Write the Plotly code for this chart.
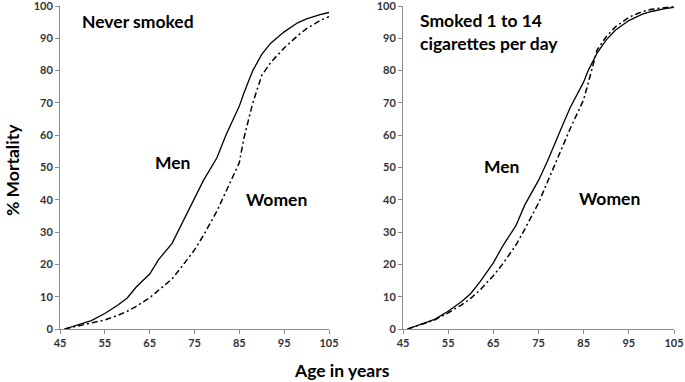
import plotly.graph_objects as go

ages = [46, 48, 50, 52, 55, 58, 60, 62, 65, 67, 70, 72, 75, 77, 80, 82, 85, 86, 88, 90, 92, 95, 98, 100, 103, 105]
men_never = [0, 0.8, 1.6, 2.6, 4.8, 7.5, 9.6, 13, 17, 21.5, 26.5, 32, 40, 46, 53, 60, 69, 73, 80, 85, 88.5, 92, 94.8, 96, 97.3, 98]
women_never = [0, 0.6, 1.2, 1.8, 2.8, 4.3, 5.5, 7, 9.7, 12, 15.5, 19, 24.5, 29, 36.5, 42.5, 51.5, 59, 70, 78.5, 82.5, 87, 90.8, 93, 95.5, 96.7]
men_smoked = [0, 1, 1.8, 3, 5.5, 8.5, 11, 14.5, 20.5, 25.5, 32, 38.5, 46, 52, 62, 68.5, 76.5, 80, 85.5, 89.5, 92.5, 95.5, 97.5, 98.3, 99.2, 99.6]
women_smoked = [0, 1, 1.8, 2.8, 5, 7.5, 9.5, 12, 16.5, 20, 26, 31, 39, 45.5, 55.5, 62, 71, 76, 86.5, 90.5, 93.5, 96.5, 98.3, 99, 99.6, 99.8]

x_ticks = [45, 55, 65, 75, 85, 95, 105]
y_ticks = [0, 10, 20, 30, 40, 50, 60, 70, 80, 90, 100]

FONT = "Lato"
dashdot = "6px,3px,2px,3px"

fig = go.Figure()
fig.add_trace(go.Scatter(x=ages, y=men_never, mode="lines", line=dict(color="black", width=1.3), xaxis="x", yaxis="y"))
fig.add_trace(go.Scatter(x=ages, y=women_never, mode="lines", line=dict(color="black", width=1.5, dash=dashdot), xaxis="x", yaxis="y"))
fig.add_trace(go.Scatter(x=ages, y=men_smoked, mode="lines", line=dict(color="black", width=1.3), xaxis="x2", yaxis="y2"))
fig.add_trace(go.Scatter(x=ages, y=women_smoked, mode="lines", line=dict(color="black", width=1.5, dash=dashdot), xaxis="x2", yaxis="y2"))

axis_common = dict(showgrid=False, zeroline=False, showline=True, linecolor="#8c8c8c", linewidth=1,
                   ticks="outside", ticklen=4, tickcolor="#8c8c8c", automargin=False,
                   ticklabeloverflow="allow",
                   tickfont=dict(family=FONT, size=11, color="#333333", weight="bold"))

fig.update_layout(
    width=685, height=382,
    margin=dict(l=0, r=0, t=0, b=0),
    paper_bgcolor="white", plot_bgcolor="white",
    showlegend=False,
    font=dict(family=FONT),
    xaxis=dict(domain=[60/685, 329/685], range=[45, 105], tickvals=x_ticks, anchor="y", **axis_common),
    yaxis=dict(domain=[53/382, 376/382], range=[0, 100], tickvals=y_ticks, anchor="x", **axis_common),
    xaxis2=dict(domain=[403/685, 674/685], range=[45, 105], tickvals=x_ticks, anchor="y2", **axis_common),
    yaxis2=dict(domain=[53/382, 376/382], range=[0, 100], tickvals=y_ticks, anchor="x2", **axis_common),
)

lab = dict(family=FONT, size=17.5, color="black", weight="bold")
anns = [
    dict(x=49.5, y=95.3, xref="x", yref="y", text="Never smoked", xanchor="left", yanchor="middle", showarrow=False, font=lab),
    dict(x=70, y=51.5, xref="x", yref="y", text="Men", xanchor="center", yanchor="middle", showarrow=False, font=lab),
    dict(x=93.4, y=40, xref="x", yref="y", text="Women", xanchor="center", yanchor="middle", showarrow=False, font=lab),
    dict(x=48.3, y=92, xref="x2", yref="y2", text="Smoked 1 to 14<br>cigarettes per day", xanchor="left", yanchor="middle", align="left", showarrow=False, font=lab),
    dict(x=66.9, y=50.3, xref="x2", yref="y2", text="Men", xanchor="center", yanchor="middle", showarrow=False, font=lab),
    dict(x=90.8, y=40.4, xref="x2", yref="y2", text="Women", xanchor="center", yanchor="middle", showarrow=False, font=lab),
    dict(x=12/685, y=1 - 170/382, xref="paper", yref="paper", text="% Mortality", textangle=-90, xanchor="center", yanchor="middle", showarrow=False, font=lab),
    dict(x=342/685, y=1 - 370/382, xref="paper", yref="paper", text="Age in years", xanchor="center", yanchor="middle", showarrow=False, font=lab),
]
fig.update_layout(annotations=anns)

fig.write_html("out.html", config={"displayModeBar": False},
               post_script="document.body.style.margin='0px';document.body.style.overflow='hidden';")
